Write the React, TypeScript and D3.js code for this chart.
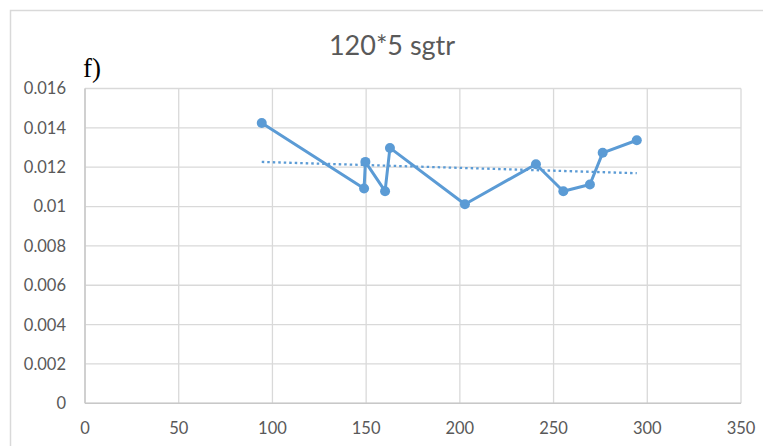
import React from "react";
import * as d3 from "d3";

// Series values (x, y) for the "120*5 sgtr" run
const xValues = [94.3, 148.9, 149.6, 160.1, 162.7, 202.7, 240.6, 255.2, 269.4, 276.2, 294.4];
const yValues = [0.01425, 0.01092, 0.01227, 0.01078, 0.01298, 0.01012, 0.01215, 0.01078, 0.01112, 0.01273, 0.01337];

const xTicks = [0, 50, 100, 150, 200, 250, 300, 350];
const yTicks = [0, 0.002, 0.004, 0.006, 0.008, 0.01, 0.012, 0.014, 0.016];

const title = "120*5 sgtr";
const panelLabel = "f)";

const W = 763;
const H = 446;
const plot = { left: 85, right: 741, top: 88.5, bottom: 403.3 };

const BLUE = "#5B9BD5";
const GRID = "#D9D9D9";
const TEXT = "#595959";
const FONT = "Lato, 'Open Sans', sans-serif";

// Ordinary least-squares fit used for the linear trendline
function linearFit(xs: number[], ys: number[]) {
  const mx = d3.mean(xs) as number;
  const my = d3.mean(ys) as number;
  let num = 0;
  let den = 0;
  xs.forEach((x, i) => {
    num += (x - mx) * (ys[i] - my);
    den += (x - mx) * (x - mx);
  });
  const slope = num / den;
  return (x: number) => my + slope * (x - mx);
}

export default function App() {
  const x = d3.scaleLinear().domain([0, 350]).range([plot.left, plot.right]);
  const y = d3.scaleLinear().domain([0, 0.016]).range([plot.bottom, plot.top]);

  const points = xValues.map((v, i) => [v, yValues[i]] as [number, number]);
  const line = d3
    .line<[number, number]>()
    .x((d) => x(d[0]))
    .y((d) => y(d[1]));

  const fit = linearFit(xValues, yValues);
  const [xMin, xMax] = d3.extent(xValues) as [number, number];
  const trend: [number, number][] = [
    [xMin, fit(xMin)],
    [xMax, fit(xMax)],
  ];

  return (
    <svg
      width={W}
      height={H}
      style={{ position: "absolute", left: 0, top: 0, background: "#fff" }}
    >
      <rect x={10.5} y={10.5} width={W + 20} height={H + 20} fill="#fff" stroke={GRID} strokeWidth={1.5} />

      <text x={392} y={55} textAnchor="middle" fontFamily={FONT} fontSize={27} fill={TEXT}>
        {title}
      </text>

      <text x={83} y={77} fontFamily="'Liberation Serif', 'Times New Roman', serif" fontSize={27} fill="#000">
        {panelLabel}
      </text>

      {/* gridlines */}
      {xTicks.map((t) => (
        <line key={"gx" + t} x1={x(t)} x2={x(t)} y1={plot.top} y2={plot.bottom} stroke={GRID} strokeWidth={1.3} />
      ))}
      {yTicks.map((t) => (
        <line key={"gy" + t} x1={plot.left} x2={plot.right} y1={y(t)} y2={y(t)} stroke={GRID} strokeWidth={1.3} />
      ))}
      <line x1={plot.left} x2={plot.right} y1={plot.bottom} y2={plot.bottom} stroke="#C8C8C8" strokeWidth={1.5} />
      <line x1={plot.left} x2={plot.left} y1={plot.top} y2={plot.bottom} stroke="#C8C8C8" strokeWidth={1.5} />

      {/* tick labels */}
      {yTicks.map((t) => (
        <text
          key={"ly" + t}
          x={66}
          y={y(t)}
          dy="0.36em"
          textAnchor="end"
          fontFamily={FONT}
          fontSize={16.5}
          fill={TEXT}
        >
          {String(t)}
        </text>
      ))}
      {xTicks.map((t) => (
        <text
          key={"lx" + t}
          x={x(t)}
          y={428}
          dy="0.36em"
          textAnchor="middle"
          fontFamily={FONT}
          fontSize={16.5}
          fill={TEXT}
        >
          {String(t)}
        </text>
      ))}

      {/* trendline */}
      <path d={line(trend) ?? ""} fill="none" stroke={BLUE} strokeWidth={2.3} strokeDasharray="2.5 3" />

      {/* series */}
      <path d={line(points) ?? ""} fill="none" stroke={BLUE} strokeWidth={3} strokeLinejoin="round" />
      {points.map((p, i) => (
        <circle key={i} cx={x(p[0])} cy={y(p[1])} r={5} fill={BLUE} />
      ))}
    </svg>
  );
}
